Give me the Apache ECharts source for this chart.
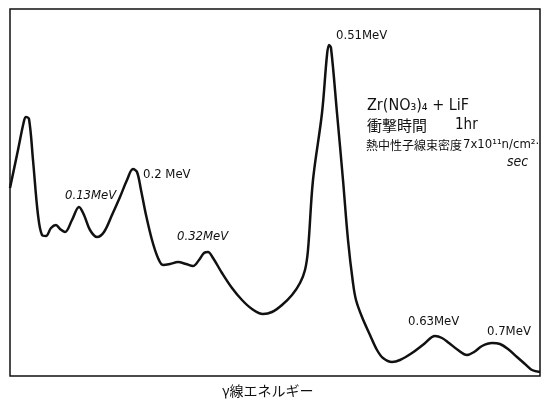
<!DOCTYPE html>
<html><head><meta charset="utf-8">
<script src="https://cdn.jsdelivr.net/npm/echarts@6/dist/echarts.min.js"></script>
<style>html,body{margin:0;padding:0;background:#fff}#c{width:544px;height:400px}</style>
</head><body><div id="c"></div>
<script>
// channel (relative energy) and counts
const channel = [0,8,14,16,19,23,28,32,36,41,46,50,55,62,69,74,80,87,94,102,110,117,123,127,131,136,142,148,153,160,168,176,183,189,194,198,203,212,222,232,242,253,262,272,282,290,295,298,303,312,317,319,321,327,333,338,343,346,352,360,367,373,382,390,402,414,425,432,439,448,457,464,472,482,490,498,507,515,522,530];
const counts  = [188,226,255,259,257,216,161,141,140,148,151,147,144,156,169,161,146,139,144,161,179,196,207,204,186,161,136,118,111,112,114,112,110,116,123,124,118,103,88,76,67,62,64,71,81,93,106,126,196,263,321,331,328,263,196,136,93,76,59,41,26,18,14,16,23,32,40,38,33,26,21,24,30,33,32,27,19,12,6,4];
const peakLabels = ["0.13MeV","0.2 MeV","0.32MeV","0.51MeV","0.63MeV","0.7MeV"];
const infoLines = ["Zr(NO₃)₄ + LiF","衝撃時間","1hr","熱中性子線束密度","7x10¹¹n/cm²·","sec"];
const xTitle = "γ線エネルギー";

const chart = echarts.init(document.getElementById('c'), null, {renderer:'canvas'});
const F = '"DejaVu Sans Condensed","Liberation Sans Narrow",sans-serif';
const J = '"Noto Sans CJK JP",sans-serif';
const lblPos = [[65,197,true],[143,176,false],[177,238,true],[336,37,false],[408,323,false],[487,333,false]];
const graphics = peakLabels.map((t,i)=>({
  type:'text', left:lblPos[i][0], top:lblPos[i][1]-8,
  style:{text:t, font:(lblPos[i][2]?'italic ':'')+'13px '+F, fill:'#111'}
}));
graphics.push({type:'text', left:367, top:98, style:{text:infoLines[0], font:'16px '+F, fill:'#111'}});
graphics.push({type:'text', left:367, top:118, style:{text:infoLines[1], font:'15px '+J, fill:'#111'}});
graphics.push({type:'text', left:455, top:118, style:{text:infoLines[2], font:'15px '+F, fill:'#111'}});
graphics.push({type:'text', left:366, top:139, style:{text:infoLines[3], font:'12px '+J, fill:'#111'}});
graphics.push({type:'text', left:463, top:138, style:{text:infoLines[4], font:'13px '+F, fill:'#111'}});
graphics.push({type:'text', left:507, top:155, style:{text:infoLines[5], font:'italic 14px '+F, fill:'#111'}});
graphics.push({type:'text', left:222, top:384, style:{text:xTitle, font:'14px '+J, fill:'#111'}});

chart.setOption({
  animation:false,
  grid:{left:10, right:4, top:9, bottom:24, show:true, borderColor:'#111', borderWidth:1.5, backgroundColor:'#fff'},
  xAxis:{type:'value', min:0, max:530, axisLine:{show:false}, axisTick:{show:false}, axisLabel:{show:false}, splitLine:{show:false}},
  yAxis:{type:'value', min:0, max:367, axisLine:{show:false}, axisTick:{show:false}, axisLabel:{show:false}, splitLine:{show:false}},
  series:[{type:'line', data:channel.map((c,i)=>[c,counts[i]]), smooth:0.35, symbol:'none',
    lineStyle:{color:'#111', width:2.5}}],
  graphic:graphics
});
</script></body></html>
